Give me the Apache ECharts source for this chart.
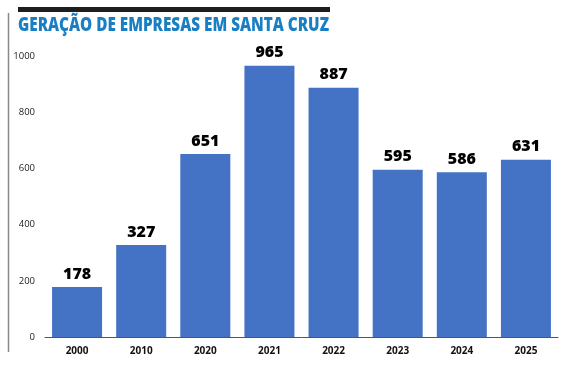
<!DOCTYPE html>
<html><head><meta charset="utf-8">
<script src="https://cdn.jsdelivr.net/npm/echarts@6/dist/echarts.min.js"></script>
<style>html,body{margin:0;padding:0;background:#fff}#c{width:584px;height:367px}</style>
</head><body><div id="c"></div>
<script>
const categories = ['2000','2010','2020','2021','2022','2023','2024','2025'];
const values = [178, 327, 651, 965, 887, 595, 586, 631];
const yTicks = [0, 200, 400, 600, 800, 1000];
const titleText = 'GERAÇÃO DE EMPRESAS EM SANTA CRUZ';

const titleFont = '800 19px "Open Sans"';
const ctx = document.createElement('canvas').getContext('2d');
ctx.font = titleFont;
const titleScale = 311 / ctx.measureText(titleText).width;

const chart = echarts.init(document.getElementById('c'), null, {renderer:'canvas'});
chart.setOption({
  animation: false,
  graphic: [
    {type:'rect', shape:{x:18, y:7, width:312, height:5}, style:{fill:'#1e1e1e'}},
    {type:'line', shape:{x1:8.5, y1:13, x2:8.5, y2:352}, style:{stroke:'#888', lineWidth:1.5}},
    {type:'text', x:18, y:16, scaleX:titleScale, style:{text:titleText, fill:'#1a7fc2', font:titleFont, textVerticalAlign:'top'}}
  ],
  grid: {left:45, right:26, top:56, bottom:30},
  xAxis: {
    type:'category', data:categories,
    axisLine:{lineStyle:{color:'#555', width:1}},
    axisTick:{show:false},
    axisLabel:{color:'#111', fontSize:10, fontWeight:'bold', fontFamily:'Open Sans', margin:9}
  },
  yAxis: {
    type:'value', min:0, max:1000, interval:200,
    axisLine:{show:false}, axisTick:{show:false}, splitLine:{show:false},
    axisLabel:{color:'#222', fontSize:9.5, fontFamily:'Open Sans', margin:10,
      formatter: v => yTicks.includes(v) ? String(v) : ''}
  },
  series: [{
    type:'bar', data:values, barCategoryGap:'22%',
    itemStyle:{color:'#4472C4'},
    label:{show:true, position:'top', distance:5, color:'#000', fontSize:16, fontWeight:800, fontFamily:'Open Sans'}
  }]
});
</script></body></html>
